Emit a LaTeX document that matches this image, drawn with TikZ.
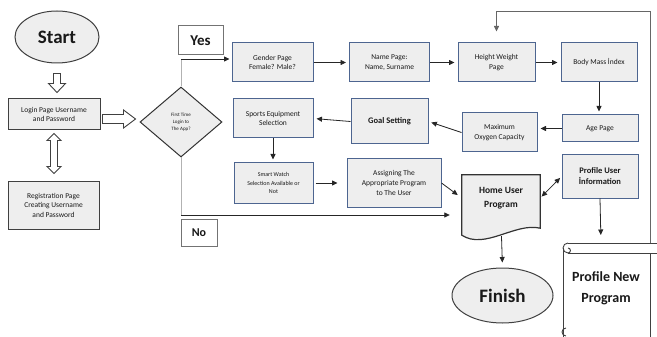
\documentclass[tikz,border=0pt]{standalone}
\usepackage{fontspec}
\setmainfont{Carlito}
\usetikzlibrary{positioning, arrows.meta, calc, shapes.geometric, backgrounds}
\definecolor{pageedge}{HTML}{4D6590}
\definecolor{cellfill}{HTML}{EEEEEE}

\begin{document}
\begin{tikzpicture}[
  x=1pt, y=-1pt,
  align=center,
  font=\fontsize{7.5}{9.5}\selectfont,
  text=black!90,
  % Estilos de nodos
  termnode/.style={ellipse, draw=black!75, fill=cellfill, line width=1pt, inner sep=0pt},
  leftbox/.style={draw=black!75, fill=cellfill, line width=1pt, inner sep=1pt, font=\fontsize{7.5}{9.5}\selectfont},
  pagebox/.style={draw=pageedge, fill=cellfill, line width=1pt, inner sep=1pt},
  choice/.style={diamond, draw=black!80, fill=cellfill, line width=1pt, inner sep=0pt, font=\fontsize{5}{7}\selectfont},
  tagbox/.style={draw=black!55, fill=white, line width=1pt},
  docedge/.style={draw=black!80, fill=cellfill, line width=1.2pt},
  scrolledge/.style={draw=black!75, line width=0.9pt},
  % Estilos de flechas
  line/.style={draw=black!85, -{Triangle[length=5.5pt, width=5pt]}, line width=0.8pt, shorten >=3pt},
  dline/.style={draw=black!85, {Triangle[length=5.5pt, width=5pt]}-{Triangle[length=5.5pt, width=5pt]}, line width=0.8pt, shorten >=2pt, shorten <=2pt},
  thinline/.style={draw=black!30, line width=0.7pt},
  hollow/.style={draw=black!75, fill=white, line width=0.9pt, line join=miter}
]
  \useasboundingbox (0,0) rectangle (657,337);
  \clip (0,0) rectangle (657,337);

  % ==========================================
  % LOGIN PART
  % ==========================================
  \node[termnode, minimum width=84, minimum height=52, font=\fontsize{19}{22}\selectfont\bfseries] (start) at (57,37) {Start};
  \node[leftbox, minimum width=92, minimum height=31] (login) at (54,114.5) {Login Page Username\\and Password};
  \node[leftbox, minimum width=91, minimum height=48] (regist) at (53.5,205) {Registration Page\\Creating Username\\and Password};
  \node[choice, minimum width=82, minimum height=70] (firstlogin) at (181,122) {First Time\\Login to\\The App?};

  \node[tagbox, minimum width=45, minimum height=29, font=\fontsize{15}{18}\selectfont\bfseries] (yes) at (200.5,40.5) {Yes};
  \node[tagbox, minimum width=36, minimum height=27, font=\fontsize{12}{14}\selectfont\bfseries] (no) at (199,232.5) {No};

  % hollow arrows
  \draw[hollow] ($(start.south)+(-3.5,10)$) -- ++(7,0) -- ++(0,10) -- ++(5,0) -- ++(-8.5,9) -- ++(-8.5,-9) -- ++(5,0) -- cycle;
  \draw[hollow] ($(login.east)+(2,0)$) -- ++(21,0) -- ++(0,-4.5) -- ++(12,9) -- ++(-12,9) -- ++(0,-4.5) -- ++(-21,0) -- cycle;
  \draw[hollow] ($(login.south)+(0,3)$) -- ++(7,7) -- ++(-3.5,0) -- ++(0,26) -- ++(3.5,0) -- ++(-7,7) -- ++(-7,-7) -- ++(3.5,0) -- ++(0,-26) -- ++(-3.5,0) -- cycle;

  % ==========================================
  % PROFILE PAGES
  % ==========================================
  \node[pagebox, minimum width=81, minimum height=39] (gender) at (272.5,62.5) {Gender Page\\Female? Male?};
  \node[pagebox, minimum width=80, minimum height=39] (name) at (389.5,62.5) {Name Page:\\Name, Surname};
  \node[pagebox, minimum width=77, minimum height=39] (height) at (496.5,62.5) {Height Weight\\Page};
  \node[pagebox, minimum width=76, minimum height=39] (bmi) at (599,62.5) {Body Mass İndex};

  \node[pagebox, minimum width=76, minimum height=27] (age) at (600,128.5) {Age Page};
  \node[pagebox, minimum width=75, minimum height=39] (oxygen) at (499.5,132.5) {Maximum\\Oxygen Capacity};
  \node[pagebox, minimum width=77, minimum height=45, font=\fontsize{8.5}{10}\selectfont\bfseries] (goal) at (389.5,121.5) {Goal Setting};
  \node[pagebox, minimum width=80, minimum height=39] (sports) at (273,118.5) {Sports Equipment\\Selection};

  \node[pagebox, minimum width=79, minimum height=40, font=\fontsize{6}{8.5}\selectfont] (watch) at (273.5,183) {Smart Watch\\Selection Available or\\Not};
  \node[pagebox, minimum width=94, minimum height=48, font=\fontsize{7.5}{10}\selectfont] (assign) at (394,183) {Assigning The\\Appropriate Program\\to The User};
  \node[pagebox, minimum width=76, minimum height=43, font=\fontsize{8.5}{11}\selectfont\bfseries] (profile) at (600,176.5) {Profile User\\İnformation};

  % Home document and finish
  \node[minimum width=78, minimum height=46, font=\fontsize{9.5}{14}\selectfont\bfseries] (home) at (501,198) {Home User\\Program};
  \begin{scope}[on background layer]
    \draw[docedge] (home.north west) -- (home.north east) -- ($(home.south east)+(0,7)$)
      .. controls ($(home.south east)+(-25,1)$) and ($(home.south west)+(23,29)$) .. ($(home.south west)+(0,14)$) -- cycle;
  \end{scope}
  \node[termnode, minimum width=101, minimum height=55, font=\fontsize{19}{24}\selectfont\bfseries] (finish) at (502.5,295.5) {Finish};

  % Scroll: profile new program
  \node[font=\fontsize{14}{21}\selectfont\bfseries] (profnew) at (606,288) {Profile New\\Program};
  \coordinate (scrolltop) at (601,243);
  \coordinate (scrollne) at (650,243);
  \coordinate (loopcorner) at (650,11);
  \draw[scrolledge] (568,243) -- (657,243) (568,253) -- (657,253);
  \draw[scrolledge] (568,243) arc[start angle=270, end angle=90, radius=5] arc[start angle=90, end angle=-90, radius=2.5];
  \draw[scrolledge] (563,248) -- (563,337) (650,253) -- (650,337);
  \draw[scrolledge] (566,328) arc[start angle=270, end angle=90, radius=4];

  % ==========================================
  % CONNECTIONS
  % ==========================================
  \coordinate (yesturn) at (181,59);
  \coordinate (noturn) at (181,215);
  \draw[thinline] (firstlogin.north) -- (yesturn);
  \draw[line, shorten >=2pt] (yesturn) -- (yesturn -| gender.west);
  \draw[thinline] (firstlogin.south) -- (noturn);
  \draw[line, shorten >=12pt] (noturn) -- (noturn -| home.west);

  \draw[line] (gender) -- (name);
  \draw[line] (name) -- (height);
  \draw[line] (height) -- (bmi);
  \draw[line] (bmi.south) -- (bmi.south |- age.north);
  \draw[line] (age.west) -- (age.west -| oxygen.east);
  \draw[line] (oxygen.west) -- (goal.east);
  \draw[line] (goal.west) -- (sports.east);
  \draw[line] (sports.south) -- (sports.south |- watch.north);
  \draw[line, shorten >=9pt, shorten <=2pt] (watch.east) -- (assign.west);
  \draw[line, shorten >=5pt] (assign.east) -- (home.west);
  \draw[dline] (home.east) -- (profile.west);
  \draw[line, shorten <=15pt, shorten >=5pt] (home.south) -- (finish.north);
  \draw[line, shorten >=8pt] (profile.south) -- (scrolltop);
  \draw[line, draw=black!60, shorten >=11pt] (scrollne) -- (loopcorner) -| (height.north);

\end{tikzpicture}
\end{document}
